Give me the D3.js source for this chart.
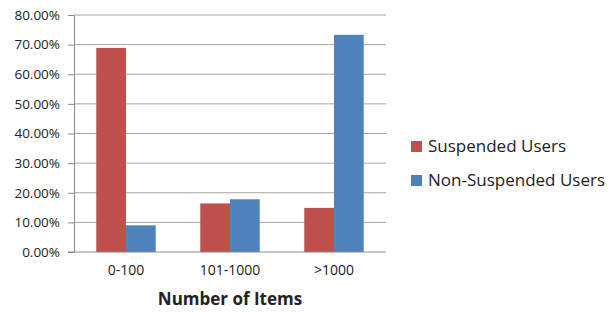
<!DOCTYPE html>
<html>
<head>
<meta charset="utf-8">
<script src="https://cdn.jsdelivr.net/npm/d3@7"></script>
<style>
  body { margin: 0; background: #fff; }
  svg text { font-family: "Open Sans", "Liberation Sans", sans-serif; fill: #222; }
</style>
</head>
<body>
<div id="chart"></div>
<script>
const categories = ["0-100", "101-1000", ">1000"];
const seriesNames = ["Suspended Users", "Non-Suspended Users"];
const suspended = [0.689, 0.164, 0.149];
const nonSuspended = [0.09, 0.178, 0.733];
const yTicks = [0, 0.1, 0.2, 0.3, 0.4, 0.5, 0.6, 0.7, 0.8];
const colors = ["#C0504D", "#4F81BD"];

const w = 610;
const h = 312;
const padL = 74, padR = 386, padT = 15, padB = 252;

const svg = d3.select("#chart").append("svg").attr("width", w).attr("height", h);

const y = d3.scaleLinear().domain([0, 0.8]).range([padB, padT]);
const x = d3.scaleBand().domain(categories).range([padL, padR]);
const inner = d3.scaleBand().domain(seriesNames).range([0, x.bandwidth()]).paddingInner(0).paddingOuter(0.75);

// gridlines
svg.append("g")
  .selectAll("line")
  .data(yTicks.filter(d => d > 0))
  .enter()
  .append("line")
  .attr("x1", padL)
  .attr("x2", padR)
  .attr("y1", d => y(d))
  .attr("y2", d => y(d))
  .attr("stroke", "#a6a6a6")
  .attr("stroke-width", 1);

// y axis
const yAxis = d3.axisLeft(y).tickValues(yTicks).tickFormat(d3.format(".2%")).tickSize(6).tickPadding(8);
const gy = svg.append("g").attr("transform", "translate(" + padL + ",0)").call(yAxis);
gy.select(".domain").attr("stroke", "#888");
gy.selectAll(".tick line").attr("stroke", "#888");
gy.selectAll("text").style("font-size", "13.5px").attr("fill", "#222");

// bars
const data = categories.map((c, i) => ({ cat: c, vals: [suspended[i], nonSuspended[i]] }));
const groups = svg.selectAll(".grp")
  .data(data)
  .enter()
  .append("g")
  .attr("transform", d => "translate(" + x(d.cat) + ",0)");
groups.selectAll("rect")
  .data(d => d.vals.map((v, j) => ({ name: seriesNames[j], v: v, j: j })))
  .enter()
  .append("rect")
  .attr("x", d => inner(d.name))
  .attr("width", inner.bandwidth())
  .attr("y", d => y(d.v))
  .attr("height", d => y(0) - y(d.v))
  .attr("fill", d => colors[d.j]);

// x axis
const xAxis = d3.axisBottom(x).tickSize(0).tickPadding(13);
const gx = svg.append("g").attr("transform", "translate(0," + padB + ")").call(xAxis);
gx.select(".domain").remove();
gx.append("line").attr("x1", padL - 6).attr("x2", padR).attr("stroke", "#888");
gx.selectAll("text").style("font-size", "14px").attr("fill", "#222");

svg.append("text")
  .attr("x", (padL + padR) / 2)
  .attr("y", 305)
  .attr("text-anchor", "middle")
  .style("font-size", "17px")
  .style("font-weight", "bold")
  .text("Number of Items");

// legend
const legend = svg.selectAll(".leg")
  .data(seriesNames)
  .enter()
  .append("g")
  .attr("transform", (d, i) => "translate(411," + (141 + i * 34) + ")");
legend.append("rect").attr("width", 11).attr("height", 11).attr("fill", (d, i) => colors[i]);
legend.append("text")
  .attr("x", 17)
  .attr("y", 5.5)
  .attr("dy", "0.35em")
  .style("font-size", "17px")
  .text(d => d);
</script>
</body>
</html>
